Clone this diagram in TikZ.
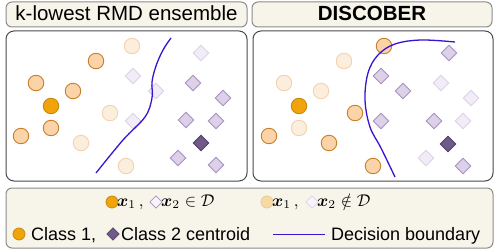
\documentclass[tikz,border=0pt]{standalone}
\usepackage{amsmath}
\usepackage{graphicx}
\usepackage{fontspec}
\setmainfont{Liberation Sans}
\usetikzlibrary{shapes.geometric}
\definecolor{cream}{HTML}{F7F4EA}
\definecolor{boxgray}{HTML}{8C8C8C}
\definecolor{panelgray}{HTML}{4A4A4A}
\definecolor{orS}{HTML}{F0A30A}
\definecolor{orSb}{HTML}{C98A10}
\definecolor{orM}{HTML}{FAD4A8}
\definecolor{orMb}{HTML}{C9802C}
\definecolor{orF}{HTML}{FCEEDD}
\definecolor{orFb}{HTML}{F3D3B0}
\definecolor{puS}{HTML}{6F5A88}
\definecolor{puSb}{HTML}{54406C}
\definecolor{puM}{HTML}{DDD1E8}
\definecolor{puMb}{HTML}{A791C2}
\definecolor{puF}{HTML}{F1ECF6}
\definecolor{puFb}{HTML}{DCD2E9}
\definecolor{boundary}{HTML}{3A12D2}
\definecolor{legF}{HTML}{F6D9A4}
\definecolor{legFb}{HTML}{EDCB90}
\newcommand{\bigmath}[1]{\scalebox{1.7}{$#1$}}
\begin{document}
\begin{tikzpicture}[x=1pt,y=-1pt,
  titlebox/.style={draw=boxgray,fill=cream,line width=1pt,rounded corners=6pt,minimum height=25pt,text height=14pt,text depth=1pt,inner sep=0pt,font=\fontsize{20.5}{22}\selectfont},
  panel/.style={draw=panelgray,fill=white,line width=1pt,rounded corners=8pt,minimum height=150pt},
  legbox/.style={draw=boxgray,fill=cream,line width=1pt,rounded corners=6pt},
  pt/.style={circle,inner sep=0pt,minimum size=15.5pt,line width=0.9pt},
  cS/.style={pt,fill=orS,draw=orSb},
  cM/.style={pt,fill=orM,draw=orMb},
  cF/.style={pt,fill=orF,draw=orFb},
  dm/.style={diamond,inner sep=0pt,minimum size=16pt,line width=0.9pt},
  dS/.style={dm,fill=puS,draw=puSb},
  dM/.style={dm,fill=puM,draw=puMb},
  dF/.style={dm,fill=puF,draw=puFb},
  bnd/.style={draw=boundary,line width=1.3pt},
  ltext/.style={anchor=base west,inner sep=0pt,font=\fontsize{18}{20}\selectfont},
  mtext/.style={anchor=base west,inner sep=0pt,font=\fontsize{10}{12}\selectfont},
  lc/.style={circle,inner sep=0pt,minimum size=12pt,line width=0.8pt},
  ld/.style={diamond,inner sep=0pt,minimum size=12.5pt,line width=0.8pt}
]
\useasboundingbox (0,0) rectangle (498,251);
% titles
\node[titlebox,minimum width=241pt] (tL) at (126.5,14.5) {k-lowest RMD ensemble};
\node[titlebox,minimum width=240pt,font=\fontsize{20.5}{22}\selectfont\bfseries] (tR) at (372,14.5) {DISCOBER};
% panels
\node[panel,minimum width=241pt] (pL) at (126.5,106) {};
\node[panel,minimum width=240pt] (pR) at (373,106) {};
% left panel points
\node[cF] (a1) at (132,46) {};
\node[cM] (a2) at (96,61) {};
\node[cM] (a3) at (36,83) {};
\node[cM] (a4) at (73,91) {};
\node[cS] (a5) at (51,106) {};
\node[cF] (a6) at (110,113) {};
\node[cM] (a7) at (51,128) {};
\node[cM] (a8) at (21,136) {};
\node[cF] (a9) at (81,143) {};
\node[cF] (a10) at (126,166) {};
\node[dF] (b1) at (201,53) {};
\node[dF] (b2) at (133,76) {};
\node[dF] (b3) at (156,91) {};
\node[dM] (b4) at (193,83) {};
\node[dM] (b5) at (223,98) {};
\node[dF] (b6) at (133,121) {};
\node[dM] (b7) at (186,120) {};
\node[dM] (b8) at (216,121) {};
\node[dS] (b9) at (201,143) {};
\node[dM] (b10) at (178,158) {};
\node[dM] (b11) at (216,165) {};
\draw[bnd] plot[smooth,tension=0.6] coordinates {(96,173) (123,140) (145,117) (152,98) (152,82) (156,66) (163,50) (171,38)};
% right panel points
\node[cM] (c1) at (384,46) {};
\node[cF] (c2) at (344,61) {};
\node[cF] (c3) at (284,83) {};
\node[cF] (c4) at (321,91) {};
\node[cS] (c5) at (299,106) {};
\node[cM] (c6) at (355,113) {};
\node[cF] (c7) at (299,128) {};
\node[cM] (c8) at (269,136) {};
\node[cM] (c9) at (329,143) {};
\node[cM] (c10) at (373,166) {};
\node[dM] (d1) at (449,53) {};
\node[dM] (d2) at (381,76) {};
\node[dM] (d3) at (403,91) {};
\node[dF] (d4) at (441,83) {};
\node[dF] (d5) at (471,98) {};
\node[dM] (d6) at (381,121) {};
\node[dM] (d7) at (434,121) {};
\node[dF] (d8) at (463,121) {};
\node[dS] (d9) at (448,144) {};
\node[dF] (d10) at (426,158) {};
\node[dM] (d11) at (463,166) {};
\draw[bnd] plot[smooth,tension=0.6] coordinates {(395,177) (381,148) (370,127) (365,100) (368,73) (378,55) (395,44) (421,40) (455,42)};
% legend
\node[legbox,minimum width=487pt,minimum height=60pt] (leg) at (249.5,218) {};
\node[lc,fill=orS,draw=orSb] (l1) at (112,202) {};
\node[mtext] (l1t) at (117,206) {\bigmath{\boldsymbol{x}_1\,,}};
\node[ld,fill=puF!60!white,draw=puMb] (l2) at (156,202) {};
\node[mtext] (l2t) at (161,206) {\bigmath{\boldsymbol{x}_2\in\mathcal{D}}};
\node[lc,fill=legF,draw=legFb] (l3) at (267,202) {};
\node[mtext] (l3t) at (272,206) {\bigmath{\boldsymbol{x}_1\,,}};
\node[ld,fill=puF!50!white,draw=puFb] (l4) at (312,202) {};
\node[mtext] (l4t) at (317,206) {\bigmath{\boldsymbol{x}_2\notin\mathcal{D}}};
\node[lc,fill=orS,draw=orSb] (l5) at (19,234) {};
\node[ltext] (l5t) at (31,240) {Class 1,};
\node[ld,fill=puS,draw=puSb] (l6) at (113,234) {};
\node[ltext] (l6t) at (121,240) {Class 2 centroid};
\coordinate (lb1) at (273,234);
\coordinate (lb2) at (325,234);
\draw[draw=boundary,line width=1pt] (lb1) -- (lb2);
\node[ltext] (l7t) at (331,240) {Decision boundary};
\end{tikzpicture}
\end{document}
